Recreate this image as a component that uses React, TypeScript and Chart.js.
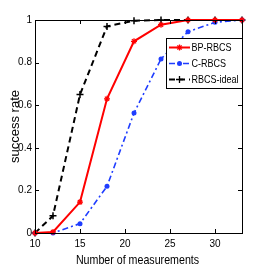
import React, { useEffect, useRef } from "react";
import { Chart, registerables } from "chart.js";

Chart.register(...registerables);

const measurements = [10, 12, 15, 18, 21, 24, 27, 30, 33];
const bpRbcs = [0, 0.005, 0.145, 0.63, 0.9, 0.978, 1.0, 1.0, 1.0];
const cRbcs = [0, 0, 0.044, 0.219, 0.563, 0.817, 0.945, 0.989, 1.0];
const rbcsIdeal = [0, 0.081, 0.65, 0.97, 0.997, 1.0, 1.0, 1.0, 1.0];
const seriesNames = ["BP-RBCS", "C-RBCS", "RBCS-ideal"];
const xTicks = [10, 15, 20, 25, 30];
const yTicks = [0, 0.2, 0.4, 0.6, 0.8, 1];
const xTitle = "Number of measurements";
const yTitle = "success rate";

const SANS = "'Liberation Sans', Arial, sans-serif";
const SQUEEZE = 0.82;

function drawMarker(ctx: CanvasRenderingContext2D, style: string, x: number, y: number, r: number, color: string) {
  ctx.save();
  ctx.strokeStyle = color;
  ctx.fillStyle = color;
  ctx.lineWidth = 1.3;
  ctx.setLineDash([]);
  ctx.beginPath();
  if (style === "circle") {
    ctx.arc(x, y, r, 0, Math.PI * 2);
    ctx.fill();
  } else if (style === "cross") {
    ctx.moveTo(x - r, y); ctx.lineTo(x + r, y);
    ctx.moveTo(x, y - r); ctx.lineTo(x, y + r);
    ctx.stroke();
  } else {
    ctx.moveTo(x - r, y); ctx.lineTo(x + r, y);
    ctx.moveTo(x, y - r); ctx.lineTo(x, y + r);
    const d = r * 0.7;
    ctx.moveTo(x - d, y - d); ctx.lineTo(x + d, y + d);
    ctx.moveTo(x - d, y + d); ctx.lineTo(x + d, y - d);
    ctx.stroke();
  }
  ctx.restore();
}

function squeezedText(ctx: CanvasRenderingContext2D, text: string, x: number, y: number, size: number, align: CanvasTextAlign) {
  ctx.save();
  ctx.font = size + "px " + SANS;
  ctx.fillStyle = "#000";
  ctx.textBaseline = "middle";
  ctx.textAlign = align;
  ctx.translate(x, y);
  ctx.scale(SQUEEZE, 1);
  ctx.fillText(text, 0, 0);
  ctx.restore();
}

const framePlugin = {
  id: "frameAndLegend",
  afterDatasetsDraw(chart: any) {
    const { ctx, chartArea: a, scales } = chart;
    ctx.save();
    ctx.strokeStyle = "#000";
    ctx.lineWidth = 1;
    ctx.setLineDash([]);
    ctx.strokeRect(Math.round(a.left) + 0.5, Math.round(a.top) + 0.5, Math.round(a.right - a.left), Math.round(a.bottom - a.top));
    const tl = 4;
    ctx.beginPath();
    for (const v of xTicks) {
      const px = Math.round(scales.x.getPixelForValue(v)) + 0.5;
      ctx.moveTo(px, a.bottom); ctx.lineTo(px, a.bottom - tl);
      ctx.moveTo(px, a.top); ctx.lineTo(px, a.top + tl);
    }
    for (const v of yTicks) {
      const py = Math.round(scales.y.getPixelForValue(v)) + 0.5;
      ctx.moveTo(a.left, py); ctx.lineTo(a.left + tl, py);
      ctx.moveTo(a.right, py); ctx.lineTo(a.right - tl, py);
    }
    ctx.stroke();
    ctx.restore();
  },
  afterDraw(chart: any) {
    const { ctx, chartArea: a } = chart;
    squeezedText(ctx, xTitle, (a.left + a.right) / 2 - 1, 260, 13, "center");
    const boxR = Math.round(a.right) + 0.5;
    const boxL = boxR - 76;
    const boxT = 38.5;
    const boxB = 88.5;
    ctx.save();
    ctx.fillStyle = "#fff";
    ctx.fillRect(boxL, boxT, boxR - boxL, boxB - boxT);
    ctx.strokeStyle = "#000";
    ctx.lineWidth = 1;
    ctx.setLineDash([]);
    ctx.strokeRect(boxL, boxT, boxR - boxL, boxB - boxT);
    ctx.restore();
    const rows = [47.5, 63.5, 79.5];
    chart.data.datasets.forEach((ds: any, i: number) => {
      const y = rows[i];
      ctx.save();
      ctx.strokeStyle = ds.borderColor;
      ctx.lineWidth = ds.borderWidth;
      ctx.setLineDash(ds.borderDash || []);
      ctx.beginPath();
      ctx.moveTo(boxL + 2.5, y);
      ctx.lineTo(boxL + 23.5, y);
      ctx.stroke();
      ctx.restore();
      drawMarker(ctx, ds.pointStyle, boxL + 13, y, ds.pointRadius, ds.borderColor);
      squeezedText(ctx, ds.label, boxL + 25, y + 0.5, 11, "left");
    });
  },
};

export default function App() {
  const ref = useRef<HTMLCanvasElement>(null);
  useEffect(() => {
    if (!ref.current) return;
    const chart = new Chart(ref.current, {
      type: "line",
      data: {
        labels: measurements,
        datasets: [
          {
            label: seriesNames[0],
            data: measurements.map((x, i) => ({ x, y: bpRbcs[i] })),
            borderColor: "#ff0000",
            backgroundColor: "#ff0000",
            borderWidth: 2,
            pointStyle: "star",
            pointRadius: 3,
            pointBorderWidth: 1.2,
            tension: 0,
            clip: 5,
          },
          {
            label: seriesNames[1],
            data: measurements.map((x, i) => ({ x, y: cRbcs[i] })),
            borderColor: "#1f3dff",
            backgroundColor: "#1f3dff",
            borderWidth: 1.6,
            borderDash: [6, 3, 2, 3],
            pointStyle: "circle",
            pointRadius: 2.5,
            pointBorderWidth: 0,
            tension: 0,
            clip: 5,
          },
          {
            label: seriesNames[2],
            data: measurements.map((x, i) => ({ x, y: rbcsIdeal[i] })),
            borderColor: "#000000",
            backgroundColor: "#000000",
            borderWidth: 2,
            borderDash: [6, 4],
            pointStyle: "cross",
            pointRadius: 3.5,
            pointBorderWidth: 1.5,
            tension: 0,
            clip: 5,
          },
        ],
      },
      options: {
        animation: false,
        responsive: false,
        layout: { padding: { left: 0, right: 25, top: 20, bottom: 0 } },
        plugins: { legend: { display: false }, tooltip: { enabled: false } },
        scales: {
          x: {
            type: "linear",
            min: 10,
            max: 33,
            afterFit: (s: any) => { s.height = 34; },
            afterBuildTicks: (s: any) => { s.ticks = xTicks.map((v) => ({ value: v })); },
            grid: { display: false, drawTicks: false },
            border: { display: false },
            ticks: { color: "#000", padding: 5, font: { size: 10, family: SANS } },
            title: { display: false, text: xTitle },
          },
          y: {
            type: "linear",
            min: 0,
            max: 1,
            afterFit: (s: any) => { s.width = 35; },
            afterBuildTicks: (s: any) => { s.ticks = yTicks.map((v) => ({ value: v })); },
            grid: { display: false, drawTicks: false },
            border: { display: false },
            ticks: { color: "#000", padding: 3, font: { size: 10, family: SANS }, callback: (v: any) => String(v) },
            title: {
              display: true,
              text: yTitle,
              color: "#000",
              font: { size: 13, family: SANS },
              padding: { top: 8, bottom: 0 },
            },
          },
        },
      },
      plugins: [framePlugin],
    } as any);
    return () => chart.destroy();
  }, []);
  return (
    <div style={{ position: "fixed", left: 0, top: 0, width: 267, height: 267, background: "#fff" }}>
      <canvas ref={ref} width={267} height={267} style={{ width: 267, height: 267 }} />
    </div>
  );
}
